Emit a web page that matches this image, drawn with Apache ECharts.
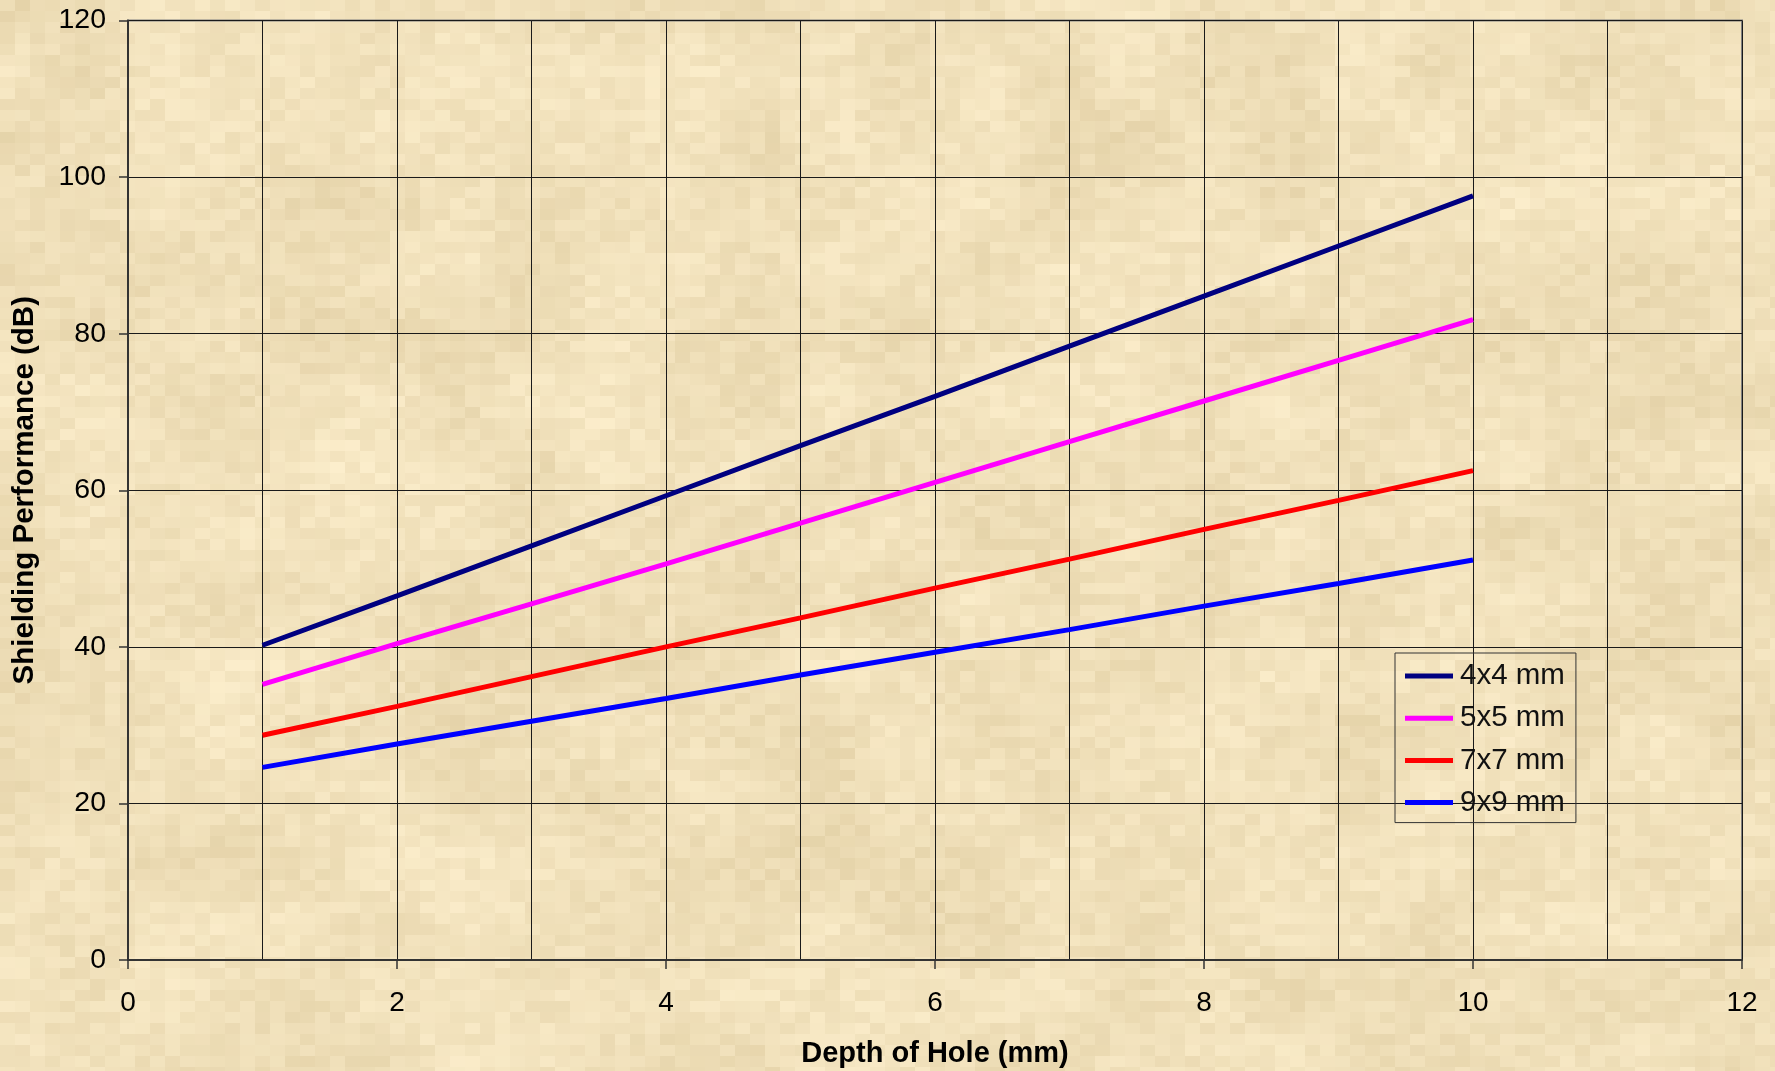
<!DOCTYPE html>
<html>
<head>
<meta charset="utf-8">
<title>Shielding Performance vs Depth of Hole</title>
<script src="https://cdn.jsdelivr.net/npm/echarts@6/dist/echarts.min.js"></script>
<style>
  html, body { margin: 0; padding: 0; }
  #chart { width: 1775px; height: 1071px; background-color: #efdcb6; }
</style>
</head>
<body>
<div id="chart"></div>
<script>
// Hole depth (mm) and shielding performance (dB) for each aperture size
const depths = [1, 2, 3, 4, 5, 6, 7, 8, 9, 10];
const hole4x4 = [40.2, 46.5, 52.9, 59.3, 65.7, 72.0, 78.4, 84.8, 91.2, 97.6];
const hole5x5 = [35.2, 40.4, 45.5, 50.6, 55.8, 61.0, 66.2, 71.4, 76.6, 81.8];
const hole7x7 = [28.7, 32.4, 36.2, 40.0, 43.7, 47.5, 51.2, 55.0, 58.7, 62.5];
const hole9x9 = [24.6, 27.6, 30.5, 33.4, 36.4, 39.3, 42.2, 45.2, 48.1, 51.1];
const seriesNames = ['4x4 mm', '5x5 mm', '7x7 mm', '9x9 mm'];
const seriesColors = ['#000080', '#ff00ff', '#ff0000', '#0000ff'];
const xTicks = [0, 2, 4, 6, 8, 10, 12];
const yTicks = [0, 20, 40, 60, 80, 100, 120];

// Parchment backdrop: blocky tan texture built from a deterministic hash
(function paintParchment() {
  const W = 1775, H = 1071, bw = 15, bh = 11;
  const c = document.createElement('canvas');
  c.width = W; c.height = H;
  const g = c.getContext('2d');
  const hash = (a, b) => {
    const s = Math.sin(a * 127.1 + b * 311.7) * 43758.5453;
    return s - Math.floor(s);
  };
  const smooth = (x, y) => {
    const xi = Math.floor(x), yi = Math.floor(y);
    const fx = x - xi, fy = y - yi;
    const a = hash(xi, yi), b = hash(xi + 1, yi), d = hash(xi, yi + 1), e = hash(xi + 1, yi + 1);
    const ux = fx * fx * (3 - 2 * fx), uy = fy * fy * (3 - 2 * fy);
    return a + (b - a) * ux + (d - a) * uy + (a - b - d + e) * ux * uy;
  };
  for (let y = 0; y < H; y += bh) {
    for (let x = 0; x < W; x += bw) {
      const cx = x / bw, cy = y / bh;
      const n = 0.45 * hash(cx + 3.3, cy + 7.1) + 0.55 * smooth(cx / 5, cy / 6);
      const t = (n - 0.5) * 2; // -1..1
      const r = Math.round(240 + 12 * t);
      const gg = Math.round(224 + 14 * t);
      const bl = Math.round(186 + 18 * t);
      g.fillStyle = 'rgb(' + r + ',' + gg + ',' + bl + ')';
      g.fillRect(x, y, bw, bh);
    }
  }
  document.getElementById('chart').style.backgroundImage = 'url(' + c.toDataURL() + ')';
})();

const toPoints = (vals) => depths.map((d, i) => [d, vals[i]]);
const seriesValues = [hole4x4, hole5x5, hole7x7, hole9x9];

const chart = echarts.init(document.getElementById('chart'), null, { renderer: 'canvas' });
const font = "'Liberation Sans', Arial, sans-serif";
const gridLine = { color: '#1a1a1a', width: 1 };

chart.setOption({
  backgroundColor: 'transparent',
  animation: false,
  textStyle: { fontFamily: font },
  grid: {
    left: 128, top: 20.5, right: 33, bottom: 111,
    outerBoundsMode: 'none',
    show: true, borderColor: '#808080', borderWidth: 2, backgroundColor: 'transparent'
  },
  legend: {
    orient: 'vertical',
    left: 1395, top: 653,
    padding: [8, 11, 5, 10],
    itemGap: 12.2,
    itemWidth: 48, itemHeight: 5,
    icon: 'rect',
    borderColor: '#333', borderWidth: 1,
    backgroundColor: 'transparent',
    textStyle: { fontFamily: font, fontSize: 29.5, color: '#111', lineHeight: 30, padding: [0, 0, 0, 2] },
    data: seriesNames
  },
  xAxis: {
    type: 'value',
    min: xTicks[0], max: xTicks[xTicks.length - 1], interval: 2,
    name: 'Depth of Hole (mm)',
    nameLocation: 'middle', nameGap: 79,
    nameTextStyle: { fontFamily: font, fontSize: 29, fontWeight: 'bold', color: '#000' },
    axisLine: { show: true, onZero: false, lineStyle: { color: '#333', width: 2 } },
    axisTick: { show: true, length: 9, lineStyle: { color: '#333', width: 1.5 } },
    minorTick: { show: false, splitNumber: 2 },
    axisLabel: { fontFamily: font, fontSize: 28, color: '#000', margin: 29 },
    splitLine: { show: true, lineStyle: gridLine },
    minorSplitLine: { show: true, lineStyle: gridLine }
  },
  yAxis: {
    type: 'value',
    min: yTicks[0], max: yTicks[yTicks.length - 1], interval: 20,
    name: 'Shielding Performance (dB)',
    nameLocation: 'middle', nameGap: 88,
    nameTextStyle: { fontFamily: font, fontSize: 29.5, fontWeight: 'bold', color: '#000' },
    axisLine: { show: true, onZero: false, lineStyle: { color: '#333', width: 2 } },
    axisTick: { show: true, length: 9, lineStyle: { color: '#333', width: 1.5 } },
    axisLabel: { fontFamily: font, fontSize: 28.5, color: '#000', margin: 22 },
    splitLine: { show: true, lineStyle: gridLine }
  },
  series: seriesNames.map((name, i) => ({
    name: name,
    type: 'line',
    data: toPoints(seriesValues[i]),
    symbol: 'none',
    smooth: false,
    color: seriesColors[i],
    lineStyle: { color: seriesColors[i], width: 5 },
    z: 3
  }))
});
</script>
</body>
</html>
